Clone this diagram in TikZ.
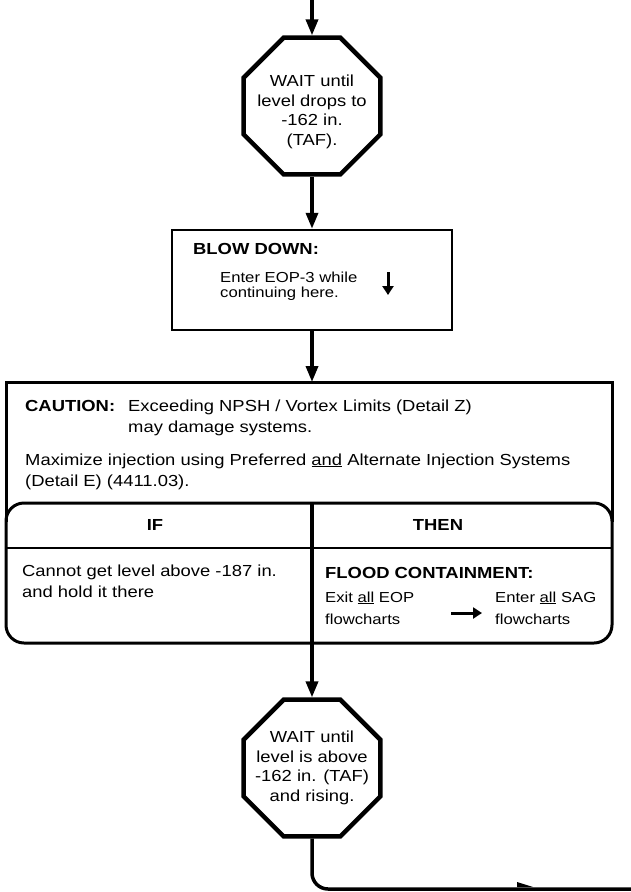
\documentclass[tikz,border=0pt]{standalone}
\usepackage{fontspec}
\setmainfont{Liberation Sans}[FakeStretch=1.15]
\usetikzlibrary{shapes.geometric,arrows.meta}
\begin{document}
\begin{tikzpicture}[x=1pt,y=-1pt,
  octa/.style={draw, line width=4.5pt, regular polygon, regular polygon sides=8, minimum size=148pt, inner sep=0pt},
  flow/.style={line width=3.5pt, -{Triangle[width=12pt,length=16pt]}},
  smallarrow/.style={line width=3pt, -{Triangle[width=11pt,length=9pt]}},
  big/.style={inner sep=0pt, anchor=base west, font=\fontsize{16}{20}\selectfont},
  bigb/.style={big, font=\fontsize{16}{20}\selectfont\bfseries},
  small/.style={inner sep=0pt, anchor=base west, font=\fontsize{14.5}{14}\selectfont},
  mid/.style={inner sep=0pt, anchor=base west, font=\fontsize{14.5}{22}\selectfont},
  octtext/.style={inner sep=0pt, align=center, font=\fontsize{16}{19.5}\selectfont},
  boxline/.style={line width=3pt},
]
\useasboundingbox (0,0) rectangle (631,892);

% first wait octagon
\coordinate (top) at (312,0);
\node[octa] (o1) at (312,106) {};
\node[octtext] (o1t) at (312,112) {WAIT until\\level drops to\\-162 in.\\(TAF).};
\draw[flow] (top) -- (o1.north);

% blow down box
\node[draw, line width=2.5pt, minimum width=280pt, minimum height=100pt, inner sep=0pt] (r) at (312,280) {};
\draw[flow] (o1.south) -- (r.north);
\node[bigb] (bd) at (193,254) {BLOW DOWN:};
\node[small] (bd1) at (220,282) {Enter EOP-3 while};
\node[small] (bd2) at (220,297) {continuing here.};
\coordinate (ra1) at (388,272);
\coordinate (ra2) at (388,295);
\draw[smallarrow] (ra1) -- (ra2);

% big caution / table box
\coordinate (bt) at (312,382);
\coordinate (ctl) at (6,382);
\coordinate (ctr) at (612,382);
\coordinate (cml) at (6,522);
\coordinate (cmr) at (612,522);
\draw[flow] (r.south) -- (bt);
\draw[boxline] (cml) -- (ctl) -- (ctr) -- (cmr);
\node[draw, line width=3pt, rounded corners=18pt, minimum width=606pt, minimum height=140pt, inner sep=0pt] (tbl) at (309,573) {};
\coordinate (hl) at (6,548);
\coordinate (hr) at (612,548);
\draw[line width=2pt] (hl) -- (hr);
\coordinate (dv1) at (312,503);
\coordinate (dv2) at (312,643);
\draw[line width=4pt] (dv1) -- (dv2);

\node[bigb] (caut) at (25,411) {CAUTION:};
\node[big] (c1) at (128,411) {Exceeding NPSH / Vortex Limits (Detail Z)};
\node[big] (c2) at (128,432) {may damage systems.};
\node[big] (c3) at (25,465) {Maximize injection using Preferred \underline{and} Alternate Injection Systems};
\node[big] (c4) at (25,486) {(Detail E) (4411.03).};

\node[inner sep=0pt, font=\fontsize{16}{20}\selectfont\bfseries] (if) at (155,525) {IF};
\node[inner sep=0pt, font=\fontsize{16}{20}\selectfont\bfseries] (then) at (438,525) {THEN};

\node[big] (if1) at (22,576) {Cannot get level above -187 in.};
\node[big] (if2) at (22,597) {and hold it there};

\node[bigb] (fc) at (325,578) {FLOOD CONTAINMENT:};
\node[mid] (ex1) at (325,602) {Exit \underline{all} EOP};
\node[mid] (ex2) at (325,624) {flowcharts};
\coordinate (ta1) at (451,613);
\coordinate (ta2) at (482,613);
\draw[smallarrow] (ta1) -- (ta2);
\node[mid] (en1) at (495,602) {Enter \underline{all} SAG};
\node[mid] (en2) at (495,624) {flowcharts};

% second wait octagon
\node[octa] (o2) at (312,768) {};
\node[octtext] (o2t) at (312,768) {WAIT until\\level is above\\-162 in. (TAF)\\and rising.};
\draw[flow] (dv2) -- (o2.north);
\coordinate (endr) at (631,889);
\draw[line width=3.5pt, rounded corners=16pt] (o2.south) |- (endr);
\fill (517,882) -- (533,887) -- (517,887) -- cycle;
\end{tikzpicture}
\end{document}
